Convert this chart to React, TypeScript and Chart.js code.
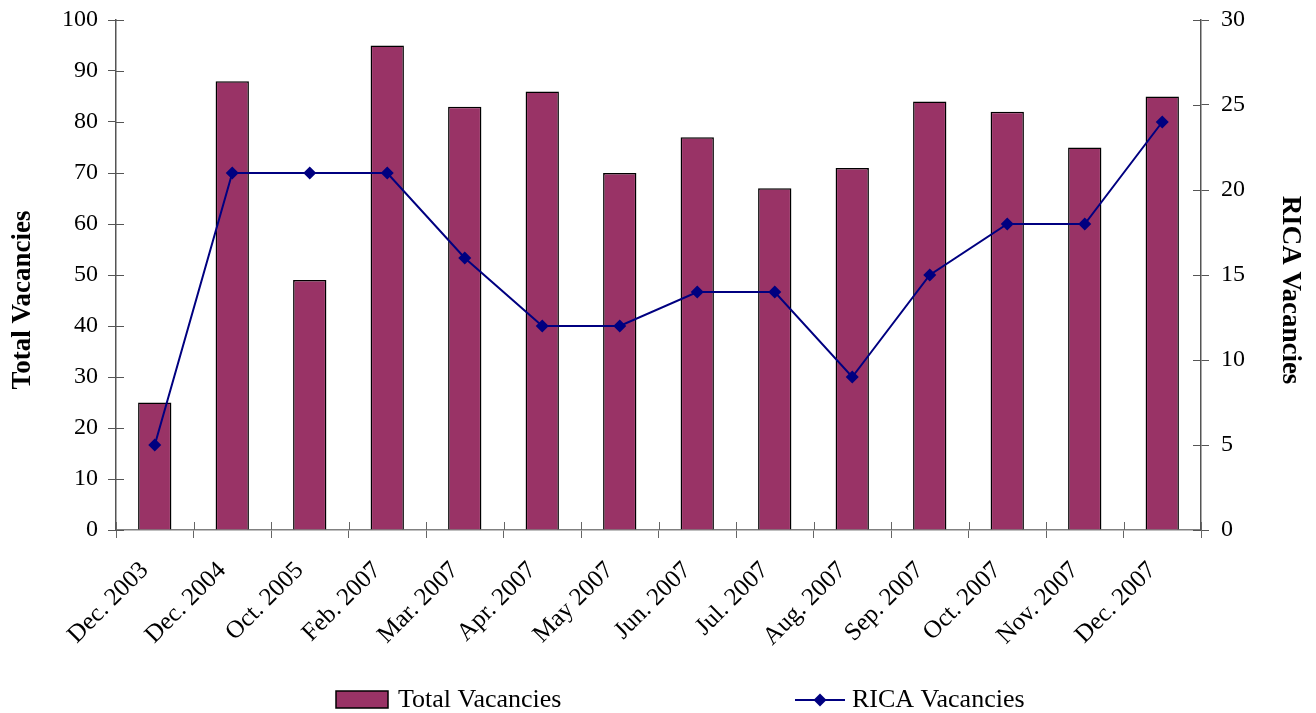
import React, { useEffect, useRef } from "react";
import { Chart, registerables } from "chart.js";

Chart.register(...registerables);

const categories = [
  "Dec. 2003", "Dec. 2004", "Oct. 2005", "Feb. 2007", "Mar. 2007", "Apr. 2007", "May 2007",
  "Jun. 2007", "Jul. 2007", "Aug. 2007", "Sep. 2007", "Oct. 2007", "Nov. 2007", "Dec. 2007",
];
const totalVacancies = [25, 88, 49, 95, 83, 86, 70, 77, 67, 71, 84, 82, 75, 85];
const ricaVacancies = [5, 21, 21, 21, 16, 12, 12, 14, 14, 9, 15, 18, 18, 24];

const leftAxis = { min: 0, max: 100, step: 10, title: "Total Vacancies" };
const rightAxis = { min: 0, max: 30, step: 5, title: "RICA Vacancies" };

const FONT = '"Liberation Serif", "Times New Roman", serif';
const BAR_COLOR = "#993366";
const LINE_COLOR = "#000080";

const innerTicks = {
  id: "innerTicks",
  afterDraw(chart: any) {
    const { ctx, chartArea, scales } = chart;
    ctx.save();
    ctx.lineWidth = 1;
    ctx.strokeStyle = "#555";
    const seg = (x1: number, y1: number, x2: number, y2: number) => {
      ctx.beginPath();
      ctx.moveTo(x1, y1);
      ctx.lineTo(x2, y2);
      ctx.stroke();
    };
    scales.y.ticks.forEach((t: any) => {
      const p = Math.round(scales.y.getPixelForValue(t.value)) + 0.5;
      seg(chartArea.left, p, chartArea.left + 8, p);
    });
    scales.y1.ticks.forEach((t: any) => {
      const p = Math.round(scales.y1.getPixelForValue(t.value)) + 0.5;
      seg(chartArea.right - 8, p, chartArea.right, p);
    });
    const n = categories.length;
    ctx.strokeStyle = "#666";
    for (let i = 0; i <= n; i++) {
      const p = Math.round(scales.x.left + (i * scales.x.width) / n) + 0.5;
      seg(p, chartArea.bottom - 8, p, chartArea.bottom);
    }

    // axis titles
    ctx.fillStyle = "#000";
    ctx.font = `bold 27px ${FONT}`;
    ctx.textAlign = "center";
    ctx.textBaseline = "middle";
    ctx.save();
    ctx.translate(23, 300);
    ctx.rotate(-Math.PI / 2);
    ctx.fillText(leftAxis.title, 0, 0);
    ctx.restore();
    ctx.save();
    ctx.translate(1290, 290);
    ctx.rotate(Math.PI / 2);
    ctx.fillText(rightAxis.title, 0, 0);
    ctx.restore();
    ctx.restore();
  },
};

const customLegend = {
  id: "customLegend",
  afterDraw(chart: any) {
    const { ctx } = chart;
    const ds0 = chart.data.datasets[0];
    const ds1 = chart.data.datasets[1];
    const cy = 700;
    ctx.save();
    ctx.fillStyle = ds0.backgroundColor;
    ctx.strokeStyle = "#000";
    ctx.lineWidth = 1.5;
    ctx.fillRect(336, 691, 52, 17);
    ctx.strokeRect(336, 691, 52, 17);
    ctx.font = `26px ${FONT}`;
    ctx.fillStyle = "#000";
    ctx.textBaseline = "middle";
    ctx.textAlign = "left";
    ctx.fillText(ds0.label, 398, cy);

    ctx.strokeStyle = ds1.borderColor;
    ctx.lineWidth = 2;
    ctx.beginPath();
    ctx.moveTo(795, cy);
    ctx.lineTo(845, cy);
    ctx.stroke();
    const r = 6.5;
    ctx.fillStyle = ds1.pointBackgroundColor;
    ctx.beginPath();
    ctx.moveTo(820, cy - r);
    ctx.lineTo(820 + r, cy);
    ctx.lineTo(820, cy + r);
    ctx.lineTo(820 - r, cy);
    ctx.closePath();
    ctx.fill();
    ctx.fillStyle = "#000";
    ctx.fillText(ds1.label, 852, cy);
    ctx.restore();
  },
};

export default function App() {
  const ref = useRef<HTMLCanvasElement | null>(null);

  useEffect(() => {
    if (!ref.current) return;
    const chart = new Chart(ref.current, {
      type: "bar",
      data: {
        labels: categories,
        datasets: [
          {
            type: "bar",
            label: "Total Vacancies",
            data: totalVacancies,
            backgroundColor: BAR_COLOR,
            borderColor: "#000",
            borderWidth: 1.5,
            categoryPercentage: 1,
            barPercentage: 0.43,
            yAxisID: "y",
            order: 2,
          } as any,
          {
            type: "line",
            label: "RICA Vacancies",
            data: ricaVacancies,
            borderColor: LINE_COLOR,
            backgroundColor: LINE_COLOR,
            pointBackgroundColor: LINE_COLOR,
            pointBorderColor: LINE_COLOR,
            pointStyle: "rectRot",
            pointRadius: 6.5,
            pointBorderWidth: 0,
            borderWidth: 2,
            tension: 0,
            yAxisID: "y1",
            order: 1,
          } as any,
        ],
      },
      options: {
        animation: false,
        responsive: false,
        layout: { padding: { top: 20, left: 0, right: 0, bottom: 0 } },
        plugins: {
          legend: { display: false },
          tooltip: { enabled: false },
        },
        scales: {
          x: {
            offset: true,
            grid: {
              display: true,
              offset: true,
              drawOnChartArea: false,
              drawTicks: true,
              tickLength: 8,
              color: "#666",
            },
            border: { display: true, color: "#808080", width: 1.5 },
            ticks: {
              autoSkip: false,
              minRotation: 45,
              maxRotation: 45,
              padding: 18,
              labelOffset: -10,
              color: "#000",
              font: { family: FONT, size: 25 },
            },
            afterFit(scale: any) {
              scale.height = 183;
            },
          },
          y: {
            position: "left",
            min: leftAxis.min,
            max: leftAxis.max,
            ticks: {
              stepSize: leftAxis.step,
              padding: 10,
              color: "#000",
              font: { family: FONT, size: 24 },
            },
            grid: { drawOnChartArea: false, drawTicks: true, tickLength: 8, color: "#555" },
            border: { display: true, color: "#555", width: 1.5 },
            afterFit(scale: any) {
              scale.width = 116;
              scale.paddingTop = 0;
              scale.paddingBottom = 0;
            },
          },
          y1: {
            position: "right",
            min: rightAxis.min,
            max: rightAxis.max,
            ticks: {
              stepSize: rightAxis.step,
              padding: 12,
              color: "#000",
              font: { family: FONT, size: 24 },
            },
            grid: { drawOnChartArea: false, drawTicks: true, tickLength: 8, color: "#555" },
            border: { display: true, color: "#555", width: 1.5 },
            afterFit(scale: any) {
              scale.width = 115;
              scale.paddingTop = 0;
              scale.paddingBottom = 0;
            },
          },
        },
      },
      plugins: [innerTicks, customLegend],
    });
    return () => chart.destroy();
  }, []);

  return (
    <div style={{ position: "absolute", left: 0, top: 0, width: 1316, height: 713, background: "#fff" }}>
      <canvas ref={ref} width={1316} height={713} />
    </div>
  );
}
